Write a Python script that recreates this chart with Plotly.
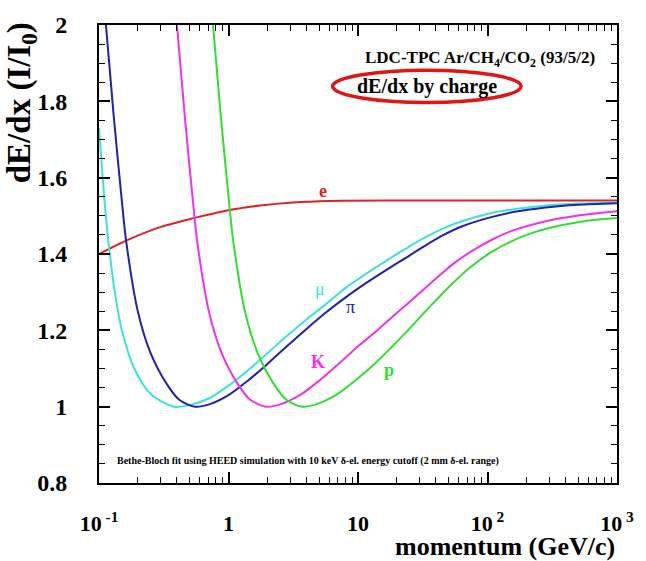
import numpy as np
import plotly.graph_objects as go

# Energy loss (relative to minimum ionisation) vs momentum, per particle type
p_e = [0.1, 0.167, 0.3, 0.54, 0.975, 1.75, 3.16, 6.0, 20.0, 100.0, 1000.0]
v_e = [1.400, 1.437, 1.471, 1.494, 1.514, 1.527, 1.535, 1.539, 1.540, 1.540, 1.540]

p_mu = [0.1, 0.1111, 0.1214, 0.1349, 0.1499, 0.1885, 0.2543, 0.3814, 0.5, 0.71,
        1.0, 1.41, 2.0, 2.82, 3.98, 5.62, 7.94, 11.2, 15.8, 22.4, 31.6, 44.7,
        63.1, 100.0, 158.0, 282.0, 501.0, 1000.0]
v_mu = [1.730, 1.527, 1.398, 1.283, 1.201, 1.098, 1.031, 1.000, 1.004, 1.022,
        1.055, 1.095, 1.140, 1.185, 1.228, 1.268, 1.310, 1.345, 1.378, 1.410, 1.440, 1.466,
        1.486, 1.505, 1.517, 1.527, 1.532, 1.535]

p_pi = [0.1131, 0.1302, 0.154, 0.1623, 0.1987, 0.2498, 0.3371, 0.4164, 0.55, 0.71,
        1.0, 1.41, 2.0, 2.82, 3.98, 5.62, 7.94, 11.2, 15.8, 22.4, 31.6, 44.7,
        63.1, 100.0, 158.0, 282.0, 501.0, 1000.0]
v_pi = [2.000, 1.758, 1.501, 1.432, 1.252, 1.141, 1.057, 1.018, 1.000, 1.006,
        1.030, 1.068, 1.112, 1.158, 1.203, 1.246, 1.285, 1.321, 1.354, 1.386, 1.418, 1.448,
        1.472, 1.494, 1.510, 1.522, 1.529, 1.533]

p_k = [0.400, 0.4605, 0.5445, 0.5738, 0.7028, 0.8836, 1.192, 1.473, 1.945,
       2.51, 3.55, 5.01, 7.08, 10.0, 14.1, 20.0, 28.2, 39.8, 56.2, 79.4, 112.0,
       158.0, 282.0, 501.0, 1000.0]
v_k = [2.000, 1.758, 1.501, 1.432, 1.252, 1.141, 1.057, 1.018, 1.000,
       1.006, 1.030, 1.068, 1.112, 1.158, 1.200, 1.246, 1.290, 1.335, 1.378, 1.412, 1.440,
       1.462, 1.486, 1.501, 1.512]

p_p = [0.759, 0.874, 1.034, 1.090, 1.335, 1.678, 2.263, 2.796, 3.69,
       4.75, 6.71, 9.48, 13.4, 18.9, 26.7, 37.8, 53.3, 75.3, 106.0, 150.0, 224.0,
       355.0, 562.0, 1000.0]
v_p = [2.000, 1.758, 1.501, 1.432, 1.252, 1.141, 1.057, 1.018, 1.000,
       1.006, 1.030, 1.068, 1.112, 1.162, 1.215, 1.270, 1.322, 1.368, 1.404, 1.432, 1.456,
       1.474, 1.486, 1.494]

curves = [
    ("e", p_e, v_e, "#dd2222"),
    ("μ", p_mu, v_mu, "#3ee0e0"),
    ("π", p_pi, v_pi, "#2222aa"),
    ("K", p_k, v_k, "#ee33ee"),
    ("p", p_p, v_p, "#33dd33"),
]

# Curve labels: (text, momentum, dE/dx, colour, bold)
labels = [
    ("e", 5.35, 1.566, "#dd2222", True),
    ("μ", 5.05, 1.308, "#3ee0e0", False),
    ("π", 8.77, 1.262, "#2222aa", False),
    ("K", 4.9, 1.116, "#ee33ee", True),
    ("p", 17.4, 1.095, "#33dd33", True),
]

x_tickvals = [0.1, 1, 10, 100, 1000]
x_ticktext = ["10<sup> -1</sup>", "1", "10", "10<sup> 2</sup>", "10<sup> 3</sup>"]
x_minor = [m * 10.0 ** d for d in range(-1, 3) for m in range(2, 10)]
y_tickvals = [0.8, 1.0, 1.2, 1.4, 1.6, 1.8, 2.0]
y_ticktext = ["0.8", "1", "1.2", "1.4", "1.6", "1.8", "2"]

SERIF = "Liberation Serif"

fig = go.Figure()
for name, px, pv, col in curves:
    fig.add_trace(go.Scatter(
        x=px, y=pv, mode="lines", name=name,
        line=dict(color=col, width=2, shape="spline", smoothing=0.8),
        showlegend=False, hoverinfo="skip",
    ))

for txt, lx, ly, col, bold in labels:
    fig.add_annotation(
        x=np.log10(lx), y=ly, xref="x", yref="y", text=txt, showarrow=False,
        font=dict(family=SERIF, size=18, color=col, weight=700 if bold else 400),
    )

fig.update_xaxes(
    type="log", range=[-1, 3], tickmode="array", tickvals=x_tickvals,
    ticktext=x_ticktext, ticks="inside", ticklen=11, tickwidth=2,
    tickcolor="black", mirror="allticks", showline=True, linecolor="black",
    linewidth=2, showgrid=False, zeroline=False, ticklabelstandoff=20,
    minor=dict(ticks="inside", tickmode="array", tickvals=x_minor,
               ticklen=6, tickcolor="black", tickwidth=1),
    tickfont=dict(family=SERIF, size=22, color="black", weight=700),
)
fig.update_yaxes(
    range=[0.8, 2.0], tickmode="array", tickvals=y_tickvals,
    ticktext=y_ticktext, ticks="inside", ticklen=11, tickwidth=2,
    tickcolor="black", mirror="allticks", showline=True, linecolor="black",
    linewidth=2, showgrid=False, zeroline=False, ticklabelstandoff=25,
    minor=dict(ticks="inside", dtick=0.05, ticklen=6, tickcolor="black",
               tickwidth=1),
    tickfont=dict(family=SERIF, size=24, color="black", weight=700),
)

# Axis titles
fig.add_annotation(
    x=1.0, y=-0.138, xref="paper", yref="paper", xanchor="right",
    yanchor="middle", text="momentum (GeV/c)", showarrow=False,
    font=dict(family=SERIF, size=26, color="black", weight=700),
)
fig.add_annotation(
    x=-0.148, y=1.01, xref="paper", yref="paper", xanchor="center",
    yanchor="top", text="dE/dx (I/I<sub>0</sub>)", textangle=-90,
    showarrow=False,
    font=dict(family=SERIF, size=33, color="black", weight=700),
)

# Header texts
fig.add_annotation(
    x=0.735, y=0.925, xref="paper", yref="paper", xanchor="center",
    yanchor="middle", text="LDC-TPC Ar/CH<sub>4</sub>/CO<sub>2</sub> (93/5/2)",
    showarrow=False,
    font=dict(family=SERIF, size=17, color="black", weight=700),
)
fig.add_annotation(
    x=0.633, y=0.866, xref="paper", yref="paper", xanchor="center",
    yanchor="middle", text="dE/dx by charge", showarrow=False,
    font=dict(family=SERIF, size=20, color="black", weight=700),
)
fig.add_shape(
    type="circle", xref="paper", yref="paper",
    x0=0.451, x1=0.815, y0=0.831, y1=0.901,
    line=dict(color="#e01515", width=3.5),
)
fig.add_annotation(
    x=0.403, y=0.047, xref="paper", yref="paper", xanchor="center",
    yanchor="middle",
    text="Bethe-Bloch fit using HEED simulation with 10 keV δ-el. energy cutoff (2 mm δ-el. range)",
    showarrow=False,
    font=dict(family=SERIF, size=10, color="black", weight=700),
)

fig.update_layout(
    width=646, height=561,
    margin=dict(l=99, r=24, t=16, b=78),
    paper_bgcolor="white", plot_bgcolor="white",
)

fig.write_html("out.html")
